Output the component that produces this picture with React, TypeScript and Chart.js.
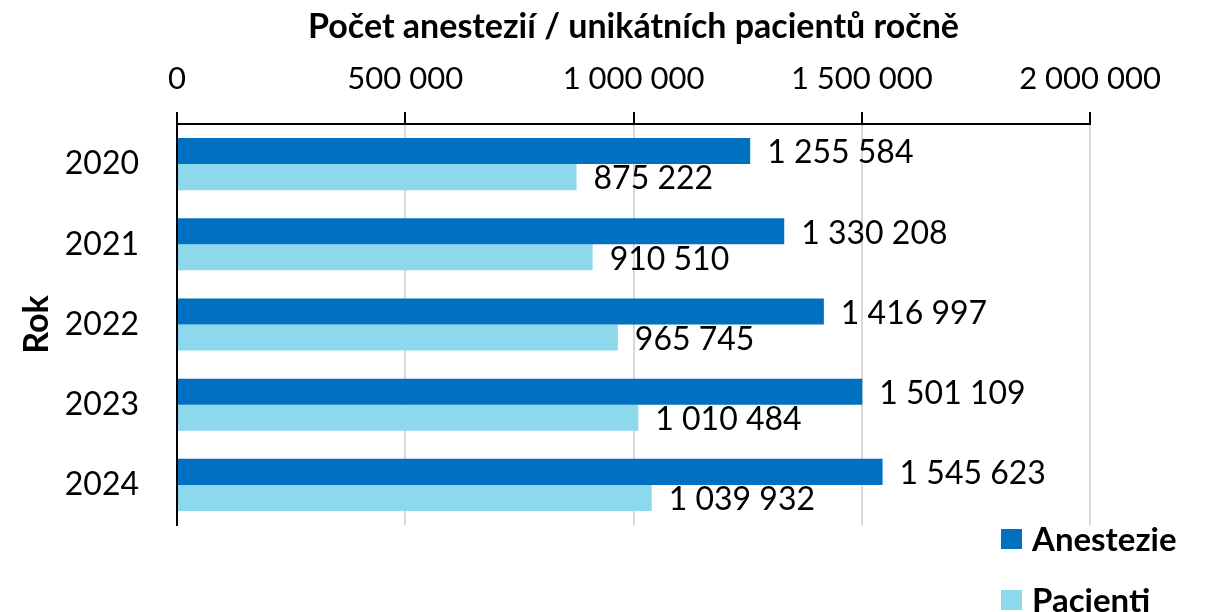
import React, { useEffect, useRef } from "react";
import { Chart, registerables } from "chart.js";
Chart.register(...registerables);

const years = ["2020", "2021", "2022", "2023", "2024"];
const anestezie = [1255584, 1330208, 1416997, 1501109, 1545623];
const pacienti = [875222, 910510, 965745, 1010484, 1039932];
const seriesNames = ["Anestezie", "Pacienti"];
const seriesColors = ["#0070C0", "#8DD8EC"];
const xTitle = "Počet anestezií / unikátních pacientů ročně";
const yTitle = "Rok";
const xMax = 2000000;
const xStep = 500000;

const FONT = "Lato";
const fmt = (v: number) =>
  Math.round(v).toString().replace(/\B(?=(\d{3})+(?!\d))/g, " ");

const dataLabels = {
  id: "dataLabels",
  afterDatasetsDraw(chart: any) {
    const ctx = chart.ctx;
    ctx.save();
    ctx.font = `32px ${FONT}`;
    ctx.fillStyle = "#000";
    ctx.textBaseline = "middle";
    ctx.textAlign = "left";
    chart.data.datasets.forEach((ds: any, i: number) => {
      const meta = chart.getDatasetMeta(i);
      meta.data.forEach((el: any, j: number) => {
        ctx.fillText(fmt(ds.data[j]), el.x + 17, el.y + 2);
      });
    });
    ctx.restore();
  },
};

const customLegend = {
  id: "customLegend",
  afterDraw(chart: any) {
    const ctx = chart.ctx;
    ctx.save();
    ctx.font = `bold 33px ${FONT}`;
    ctx.textBaseline = "middle";
    ctx.textAlign = "left";
    const x0 = chart.width - 206;
    const y0 = 529;
    chart.data.datasets.forEach((ds: any, i: number) => {
      const y = y0 + i * 61;
      ctx.fillStyle = ds.backgroundColor;
      ctx.fillRect(x0, y, 21, 20);
      ctx.fillStyle = "#000";
      ctx.fillText(ds.label, x0 + 31, y + 11);
    });
    ctx.restore();
  },
};

export default function App() {
  const ref = useRef<HTMLCanvasElement>(null);
  useEffect(() => {
    document.body.style.margin = "0";
    if (!ref.current) return;
    Chart.defaults.color = "#000";
    const chart = new Chart(ref.current, {
      type: "bar",
      data: {
        labels: years,
        datasets: [
          {
            label: seriesNames[0],
            data: anestezie,
            backgroundColor: seriesColors[0],
            categoryPercentage: 0.65,
            barPercentage: 1,
          },
          {
            label: seriesNames[1],
            data: pacienti,
            backgroundColor: seriesColors[1],
            categoryPercentage: 0.65,
            barPercentage: 1,
          },
        ],
      },
      options: {
        indexAxis: "y",
        animation: false,
        responsive: false,
        layout: { padding: { top: 0, left: 0, right: 117, bottom: 87 } },
        plugins: {
          legend: { display: false },
          tooltip: { enabled: false },
        },
        scales: {
          x: {
            position: "top",
            min: 0,
            max: xMax,
            afterFit: (s: any) => {
              s.height = 124;
            },
            ticks: {
              stepSize: xStep,
              callback: (v: any) => fmt(Number(v)),
              font: { family: FONT, size: 31 },
              color: "#000",
              padding: 14,
              maxRotation: 0,
            },
            grid: {
              color: "#D9D9D9",
              lineWidth: 2,
              tickColor: "#000",
              tickLength: 12,
            },
            border: { color: "#000", width: 2 },
            title: {
              display: true,
              text: xTitle,
              font: { family: FONT, size: 34, weight: "bold" },
              color: "#000",
              padding: { top: 7, bottom: 0 },
            },
          },
          y: {
            afterFit: (s: any) => {
              s.width = 177;
            },
            ticks: {
              font: { family: FONT, size: 32 },
              color: "#000",
              padding: 30,
            },
            grid: { display: false },
            border: { display: true, color: "#000", width: 2 },
            title: {
              display: true,
              text: yTitle,
              font: { family: FONT, size: 34, weight: "bold" },
              color: "#000",
              padding: { top: 17, bottom: 0 },
            },
          },
        },
      },
      plugins: [dataLabels, customLegend],
    });
    return () => chart.destroy();
  }, []);
  return (
    <div style={{ width: 1207, height: 612 }}>
      <canvas ref={ref} width={1207} height={612} />
    </div>
  );
}
